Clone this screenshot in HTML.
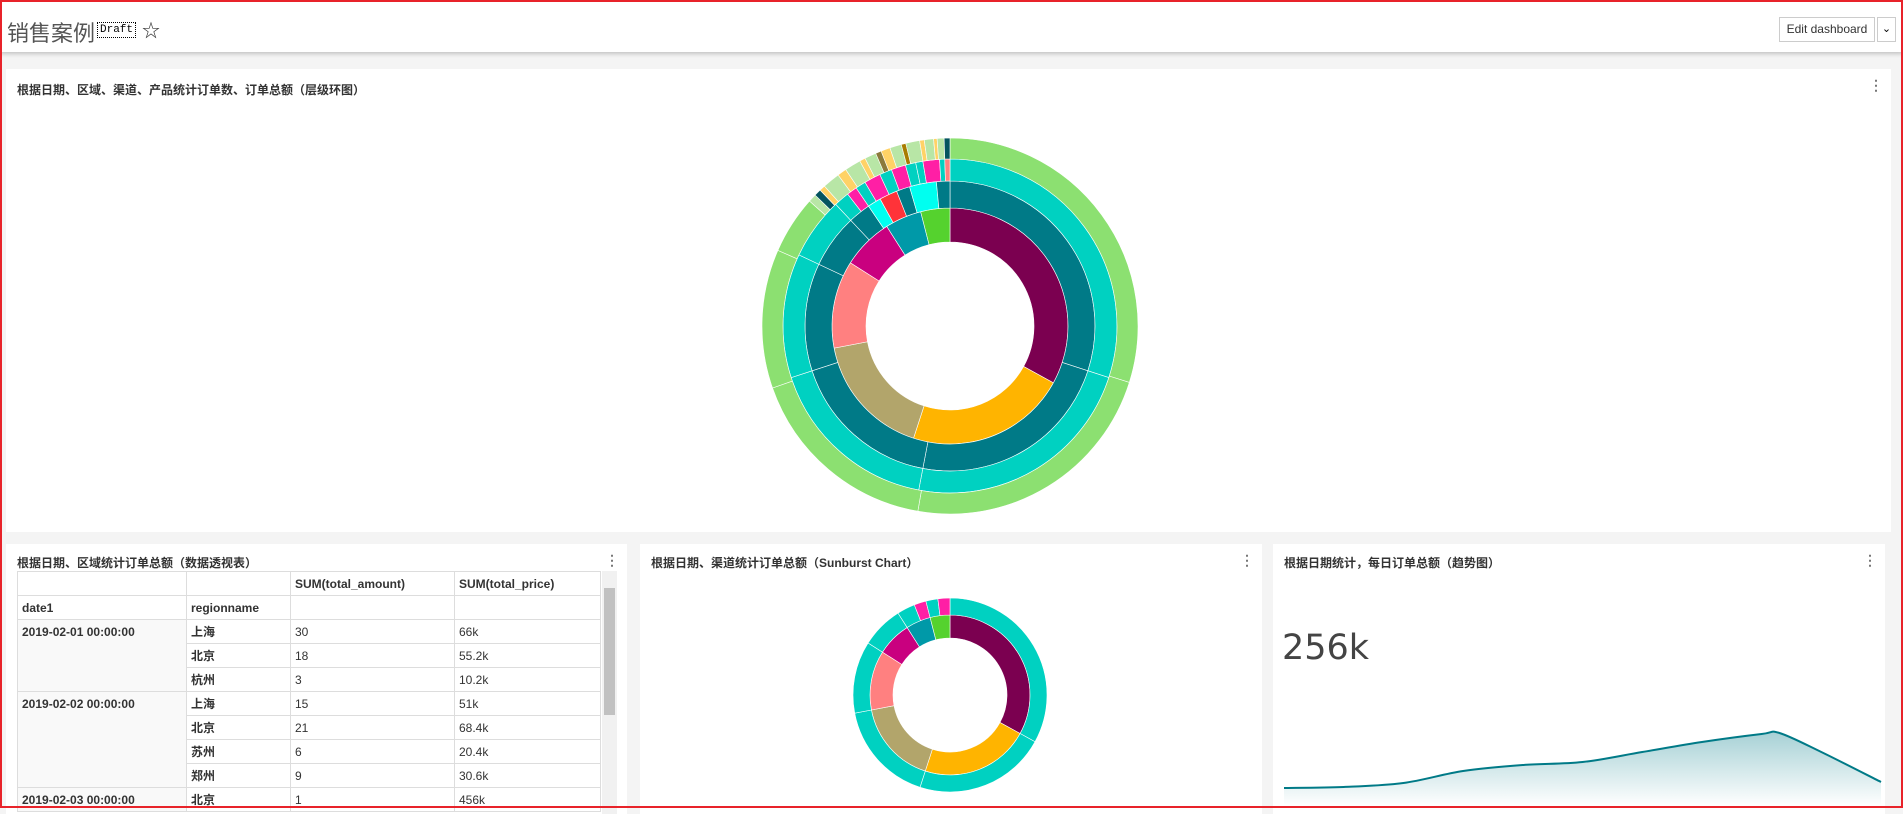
<!DOCTYPE html>
<html><head><meta charset="utf-8">
<style>
*{box-sizing:border-box;margin:0;padding:0}
body{width:1903px;height:808px;overflow:hidden;background:#f4f4f4;font-family:"Liberation Sans","Noto Sans CJK SC",sans-serif;position:relative}
#frame{position:absolute;left:0;top:0;width:1903px;height:808px;border:2px solid #e8232a;pointer-events:none;z-index:10}
#hdr{position:absolute;left:0;top:0;width:1903px;height:52px;background:#fff;box-shadow:0 2px 4px rgba(0,0,0,.2)}
.title{position:absolute;left:7px;top:16px;font-size:22px;color:#555;font-family:"Liberation Sans","Noto Sans CJK SC",sans-serif}
.draft{position:absolute;left:97px;top:22px;font-family:"Liberation Mono",monospace;font-size:11px;border:1px dotted #000;padding:0 2px;line-height:14px}
.star{position:absolute;left:142px;top:17px;font-size:18px;color:#333}
.btn{position:absolute;left:1779px;top:17px;width:96px;height:25px;border:1px solid #ccc;font-size:12px;color:#333;text-align:center;line-height:23px;background:#fff}
.dd{position:absolute;left:1877px;top:17px;width:19px;height:25px;border:1px solid #ccc;background:#fff;font-size:11px;text-align:center;line-height:23px}
.panel{position:absolute;background:#fff}
.ptitle{position:absolute;left:11px;top:12px;font-size:12px;font-weight:bold;color:#333}
.dots{position:absolute;right:8px;top:9px;font-size:14px;color:#777;line-height:14px;font-weight:bold}
table{border-collapse:collapse;position:absolute;left:11px;top:27px;font-size:12px;color:#333}
td{border:1px solid #ddd;height:24px;padding:0 4px;vertical-align:middle}
td.b{font-weight:bold}
td.gray{background:#f9f9f9;vertical-align:top;padding-top:5px}
</style></head><body>
<div id="frame"></div>
<div id="hdr">
  <div class="title">销售案例</div>
  <div class="draft">Draft</div>
  <div class="star">☆</div>
  <div style="position:absolute;left:1790px;top:0;width:30px;height:2px;background:#00a699"></div>
  <div class="btn">Edit dashboard</div>
  <div class="dd">⌄</div>
</div>

<div class="panel" style="left:6px;top:69px;width:1885px;height:463px">
  <div class="ptitle">根据日期、区域、渠道、产品统计订单数、订单总额（层级环图）</div>
  <div class="dots">⋮</div>
</div>
<svg id="sb1" style="position:absolute;left:0;top:0" width="1903" height="808"></svg>

<div class="panel" style="left:6px;top:544px;width:621px;height:270px;overflow:hidden">
  <div class="ptitle" style="top:10px">根据日期、区域统计订单总额（数据透视表）</div>
  <div class="dots">⋮</div>
  <table>
    <tr><td style="width:169px"></td><td style="width:104px"></td><td class="b" style="width:164px">SUM(total_amount)</td><td class="b" style="width:146px">SUM(total_price)</td></tr>
    <tr><td class="b">date1</td><td class="b">regionname</td><td></td><td></td></tr>
    <tr><td class="b gray" rowspan="3">2019-02-01 00:00:00</td><td class="b">上海</td><td>30</td><td>66k</td></tr>
    <tr><td class="b">北京</td><td>18</td><td>55.2k</td></tr>
    <tr><td class="b">杭州</td><td>3</td><td>10.2k</td></tr>
    <tr><td class="b gray" rowspan="4">2019-02-02 00:00:00</td><td class="b">上海</td><td>15</td><td>51k</td></tr>
    <tr><td class="b">北京</td><td>21</td><td>68.4k</td></tr>
    <tr><td class="b">苏州</td><td>6</td><td>20.4k</td></tr>
    <tr><td class="b">郑州</td><td>9</td><td>30.6k</td></tr>
    <tr><td class="b gray">2019-02-03 00:00:00</td><td class="b">北京</td><td>1</td><td>456k</td></tr>
  </table>
  <div style="position:absolute;left:596px;top:27px;width:15px;height:243px;background:#f1f1f1">
    <div style="position:absolute;left:2px;top:17px;width:11px;height:127px;background:#c1c1c1"></div>
  </div>
</div>

<div class="panel" style="left:640px;top:544px;width:622px;height:270px">
  <div class="ptitle" style="top:10px">根据日期、渠道统计订单总额（Sunburst Chart）</div>
  <div class="dots">⋮</div>
</div>
<svg id="sb2" style="position:absolute;left:0;top:0" width="1903" height="808"></svg>

<div class="panel" style="left:1273px;top:544px;width:612px;height:270px">
  <div class="ptitle" style="top:10px">根据日期统计，每日订单总额（趋势图）</div>
  <div class="dots">⋮</div>
  <div style="position:absolute;left:9px;top:84px;font-size:35px;color:#444;font-family:'DejaVu Sans',sans-serif">256k</div>
</div>
<svg id="tr" style="position:absolute;left:0;top:0" width="1903" height="808">
  <defs><linearGradient id="g" x1="0" y1="0" x2="0" y2="1"><stop offset="0" stop-color="#007a87" stop-opacity=".35"/><stop offset="1" stop-color="#007a87" stop-opacity="0"/></linearGradient></defs>
</svg>

<script>
// ring data: [value, color] per ring (clockwise from top)
const ring1Vals=[33,22,17,12,7,5,4];
const ring1Cols=['#7b0050','#ffb400','#b2a56b','#ff8080','#c9007f','#0099a8','#55d22e'];
const ring2Vals=[30,23,17,12,6,2.5,1.5,2,1.5,3,1.5];
const ring2Cols=['#007a87','#007a87','#007a87','#007a87','#007a87','#007a87','#00fff0','#ff3339','#007a87','#00fff0','#007a87'];
const ring3Vals=[30,23,17,12,6,1.5,1,1,1.6,1.2,1.4,1,0.7,1.6,0.5,0.5];
const ring3Cols=['#00d1c1','#00d1c1','#00d1c1','#00d1c1','#00d1c1','#00d1c1','#ff1fa5','#00d1c1','#ff1fa5','#00d1c1','#ff1fa5','#00d1c1','#00d1c1','#ff1fa5','#00d1c1','#ff8080'];
const ring4Vals=[30,23,17,12,5,0.7,0.6,0.5,1.5,0.8,1.4,0.5,1,0.5,0.8,1,0.4,1.2,0.4,0.8,0.3,0.6,0.5];
const ring4Cols=['#8ce071','#8ce071','#8ce071','#8ce071','#8ce071','#b8e6a6','#04545f','#ffd266','#b8e6a6','#ffd266','#b8e6a6','#ffd266','#b8e6a6','#8b7a3b','#ffd266','#b8e6a6','#a87c00','#b8e6a6','#ffd266','#b8e6a6','#ffd266','#b8e6a6','#04545f'];
const sb2Ring1Vals=[33,22,17,12,7,5,4];
const sb2Ring2Vals=[33,22,17,12,7,3,2,2,2];
const sb2Ring2Cols=['#00d1c1','#00d1c1','#00d1c1','#00d1c1','#00d1c1','#00d1c1','#ff1fa5','#00d1c1','#ff1fa5'];
// trend data (k)
const trendVals=[12,13,17,29,35,38,48,58,66,67,48,18];
const trendIdx=[0,1,2,3,4,5,6,7,8,8.3,9,10];

const NS='http://www.w3.org/2000/svg';
function arc(cx,cy,r0,r1,a0,a1){
  const p=(r,a)=>[cx+r*Math.sin(a),cy-r*Math.cos(a)];
  const lg=(a1-a0)>Math.PI?1:0;
  const [x0,y0]=p(r1,a0),[x1,y1]=p(r1,a1),[x2,y2]=p(r0,a1),[x3,y3]=p(r0,a0);
  return `M${x0},${y0}A${r1},${r1} 0 ${lg} 1 ${x1},${y1}L${x2},${y2}A${r0},${r0} 0 ${lg} 0 ${x3},${y3}Z`;
}
function ring(svg,cx,cy,r0,r1,vals,cols,name){
  const tot=vals.reduce((a,b)=>a+b,0);let a=0;
  vals.forEach((v,i)=>{
    const a1=a+v/tot*2*Math.PI;
    const p=document.createElementNS(NS,'path');
    p.setAttribute('d',arc(cx,cy,r0,r1,a,a1));
    p.setAttribute('fill',cols[i]);
    p.setAttribute('stroke','#fff');p.setAttribute('stroke-width','0.6');
    
    
    svg.appendChild(p);a=a1;
  });
}
const s1=document.getElementById('sb1');
ring(s1,950,326,84,118,ring1Vals,ring1Cols,'ring1');
ring(s1,950,326,118,145,ring2Vals,ring2Cols,'ring2');
ring(s1,950,326,145,167,ring3Vals,ring3Cols,'ring3');
ring(s1,950,326,167,188,ring4Vals,ring4Cols,'ring4');
const s2=document.getElementById('sb2');
ring(s2,950,695,57,80,sb2Ring1Vals,ring1Cols,'channel-ring1');
ring(s2,950,695,80,97,sb2Ring2Vals,sb2Ring2Cols,'channel-ring2');

// trend
const tr=document.getElementById('tr');
const xS=i=>1284+i*(1881-1284)/10, yS=v=>800-v*(800-720)/80;
const pts=trendVals.map((v,i)=>[xS(trendIdx[i]),yS(v)]);
let d=`M${pts[0][0]},${pts[0][1]}`;
for(let i=0;i<pts.length-1;i++){
  const p0=pts[Math.max(0,i-1)],p1=pts[i],p2=pts[i+1],p3=pts[Math.min(pts.length-1,i+2)];
  const c1=[p1[0]+(p2[0]-p0[0])/6,p1[1]+(p2[1]-p0[1])/6],c2=[p2[0]-(p3[0]-p1[0])/6,p2[1]-(p3[1]-p1[1])/6];
  d+=`C${c1[0]},${c1[1]} ${c2[0]},${c2[1]} ${p2[0]},${p2[1]}`;
}
const area=document.createElementNS(NS,'path');
area.setAttribute('d',d+`L${pts[pts.length-1][0]},806L${pts[0][0]},806Z`);
area.setAttribute('fill','url(#g)');


tr.appendChild(area);
const line=document.createElementNS(NS,'path');
line.setAttribute('d',d);line.setAttribute('fill','none');line.setAttribute('stroke','#007a87');line.setAttribute('stroke-width','2');


tr.appendChild(line);
</script>
</body></html>
